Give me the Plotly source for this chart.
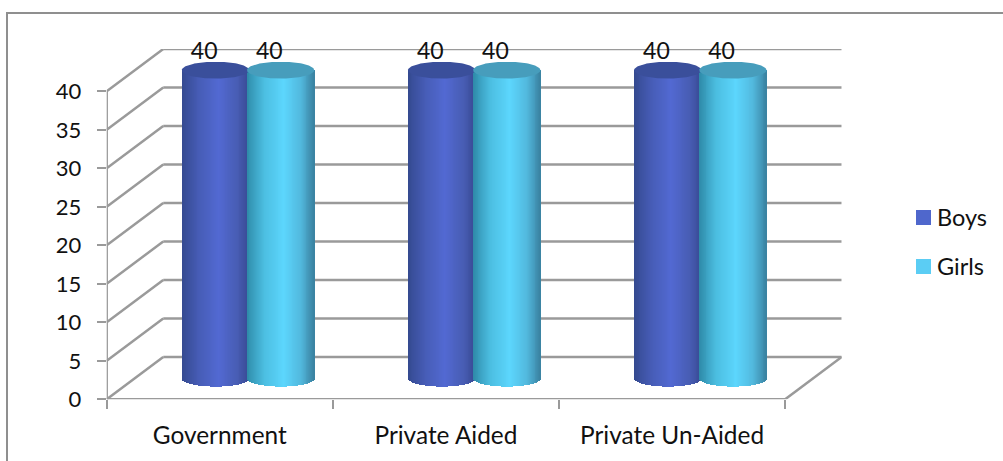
import math
import plotly.graph_objects as go

# Chart data
categories = ["Government", "Private Aided", "Private Un-Aided"]
boys = [40, 40, 40]
girls = [40, 40, 40]
y_ticks = [0, 5, 10, 15, 20, 25, 30, 35, 40]

# Oblique projection of the 3D box, in axis units
DEPTH_X = 0.25
DEPTH_Y = 5.5
RADIUS_X = 0.1487
RADIUS_Y = 1.1
OFFSET = 0.144
STRIPS = 72

GREY = "#9a9a9a"
TEXT = "#111111"
FONT = "Lato"
W, H = 1003, 461

BOYS_RAMP = [(-1, "#34498f"), (-0.5, "#465cb5"), (0.1, "#5269d2"), (0.65, "#485db4"), (1, "#384a94")]
GIRLS_RAMP = [(-1, "#2e8aa8"), (-0.5, "#4bbde0"), (0.1, "#5cd6fd"), (0.6, "#52b9de"), (1, "#3a82a1")]
BOYS_TOP = "#3a4f9b"
GIRLS_TOP = "#479dbc"
BOYS_SWATCH = "#4f67cc"
GIRLS_SWATCH = "#5bcdf4"


def ramp_colour(ramp, t):
    for (t0, c0), (t1, c1) in zip(ramp, ramp[1:]):
        if t <= t1:
            f = (t - t0) / (t1 - t0)
            a = [int(c0[i:i + 2], 16) for i in (1, 3, 5)]
            b = [int(c1[i:i + 2], 16) for i in (1, 3, 5)]
            return "rgb(%d,%d,%d)" % tuple(round(u + (v - u) * f) for u, v in zip(a, b))
    return ramp[-1][1]


def cylinder(cx, value, ramp, top_colour):
    """Body as a bar per vertical strip, lid as a filled ellipse."""
    ts = [-1 + (i + 0.5) * 2 / STRIPS for i in range(STRIPS)]
    floor = DEPTH_Y / 2
    xs = [cx + RADIUS_X * t for t in ts]
    bases = [floor - RADIUS_Y * math.sqrt(1 - t * t) for t in ts]
    heights = [floor + value - b for b in bases]
    body = go.Bar(
        x=xs, y=heights, base=bases, width=2.4 * RADIUS_X / STRIPS,
        marker=dict(color=[ramp_colour(ramp, t) for t in ts], line=dict(width=0)),
        showlegend=False, hoverinfo="skip",
    )
    angles = [2 * math.pi * k / 120 for k in range(121)]
    lid = go.Scatter(
        x=[cx + RADIUS_X * math.cos(a) for a in angles],
        y=[floor + value + RADIUS_Y * math.sin(a) for a in angles],
        mode="lines", fill="toself", fillcolor=top_colour, line=dict(width=0),
        showlegend=False, hoverinfo="skip",
    )
    return body, lid


fig = go.Figure()
centres = [i + 0.5 + DEPTH_X / 2 for i in range(len(categories))]

lids = []
for c, b, g in zip(centres, boys, girls):
    for cx, v, ramp, top in ((c - OFFSET, b, BOYS_RAMP, BOYS_TOP), (c + OFFSET, g, GIRLS_RAMP, GIRLS_TOP)):
        body, lid = cylinder(cx, v, ramp, top)
        fig.add_trace(body)
        lids.append(lid)
fig.add_traces(lids)

# Value labels above each cylinder
for series, sign in ((boys, -1), (girls, 1)):
    fig.add_trace(go.Scatter(
        x=[c + sign * OFFSET - 0.05 for c in centres],
        y=[v + DEPTH_Y - 0.5 for v in series],
        mode="text", text=[str(v) for v in series], textposition="middle center",
        textfont=dict(family=FONT, size=23, color=TEXT), cliponaxis=False,
        showlegend=False, hoverinfo="skip",
    ))


def grey_line(x0, y0, x1, y1):
    return dict(type="line", xref="x", yref="y", x0=x0, y0=y0, x1=x1, y1=y1,
                layer="below", line=dict(color=GREY, width=2.5))


n = len(categories)
shapes = []
for v in y_ticks:
    shapes.append(grey_line(0, v, DEPTH_X, v + DEPTH_Y))
    shapes.append(grey_line(DEPTH_X, v + DEPTH_Y, n + DEPTH_X, v + DEPTH_Y))
shapes.append(grey_line(0, 0, 0, max(y_ticks)))
shapes.append(grey_line(0, 0, n, 0))
shapes.append(grey_line(n, 0, n + DEPTH_X, DEPTH_Y))

# Outer chart frame: left and top edges only
shapes.append(dict(type="line", xref="paper", yref="paper", x0=7 / W, x1=7 / W, y0=0, y1=1 - 13 / H,
                   line=dict(color="#8f8f8f", width=2)))
shapes.append(dict(type="line", xref="paper", yref="paper", x0=6 / W, x1=1, y0=1 - 13 / H, y1=1 - 13 / H,
                   line=dict(color="#8f8f8f", width=2)))

# Legend swatches and labels
annotations = []
for name, colour, cy in (("Boys", BOYS_SWATCH, 217.5), ("Girls", GIRLS_SWATCH, 266.5)):
    shapes.append(dict(type="rect", xref="paper", yref="paper",
                       x0=916 / W, x1=931 / W, y0=1 - (cy + 7.5) / H, y1=1 - (cy - 7.5) / H,
                       fillcolor=colour, line=dict(width=0)))
    annotations.append(dict(text=name, xref="paper", yref="paper", x=935 / W, y=1 - (cy - 1) / H,
                            xanchor="left", yanchor="middle", showarrow=False,
                            font=dict(family=FONT, size=23.5, color=TEXT)))

fig.update_layout(
    width=W, height=H, margin=dict(l=0, r=0, t=0, b=0, autoexpand=False),
    paper_bgcolor="white", plot_bgcolor="white",
    barmode="overlay", bargap=0, showlegend=False,
    shapes=shapes, annotations=annotations,
    xaxis=dict(
        domain=[106.7 / W, 841.7 / W], range=[0, n + DEPTH_X],
        tickmode="array", tickvals=[i + 0.5 for i in range(n)], ticktext=categories,
        ticks="", showgrid=False, zeroline=False, showline=False,
        tickfont=dict(family=FONT, size=24.4, color=TEXT), ticklabelstandoff=19,
        minor=dict(tickmode="array", tickvals=list(range(n + 1)), ticks="outside",
                   ticklen=9, tickwidth=2, tickcolor=GREY, showgrid=False),
    ),
    yaxis=dict(
        domain=[1 - 399.3 / H, 1 - 49 / H], range=[0, max(y_ticks) + DEPTH_Y],
        tickmode="array", tickvals=y_ticks, ticks="outside", ticklen=9, tickwidth=2,
        tickcolor=GREY, showgrid=False, zeroline=False, showline=False,
        tickfont=dict(family=FONT, size=22, color=TEXT), ticklabelstandoff=11,
    ),
)

fig.write_html("out.html")
